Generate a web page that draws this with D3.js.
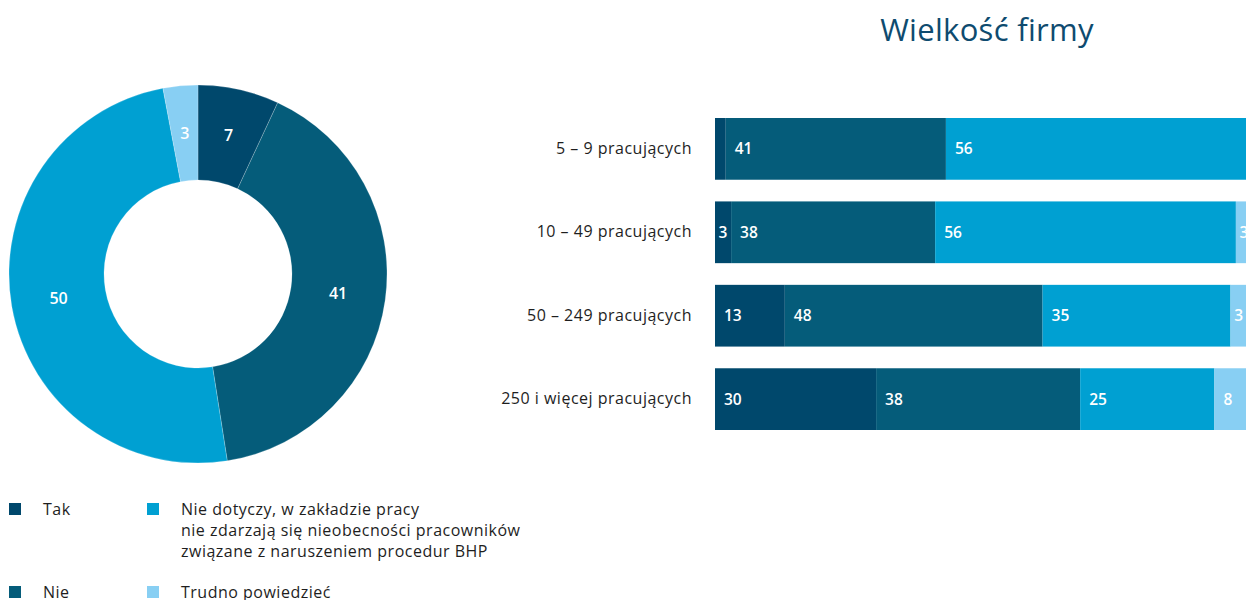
<!DOCTYPE html>
<html>
<head>
<meta charset="utf-8">
<script src="https://cdn.jsdelivr.net/npm/d3@7"></script>
<style>
  html, body { margin: 0; padding: 0; background: #fff; }
  svg { display: block; font-family: "Open Sans", "Noto Sans", sans-serif; }
</style>
</head>
<body>
<svg id="chart" width="1246" height="600"></svg>
<script>
// Answer categories (shared by the donut, the bars and the legend)
const answers = ["Tak", "Nie", "Nie dotyczy", "Trudno powiedzieć"];
const answerColors = ["#00486c", "#055c7a", "#00a0d2", "#88cff3"];

// Overall distribution (%)
const totalValues = [7, 41, 50, 3];

// Company size groups and their distributions (%)
const sizeGroups = ["5 – 9 pracujących", "10 – 49 pracujących", "50 – 249 pracujących", "250 i więcej pracujących"];
const takValues = [2, 3, 13, 30];
const nieValues = [41, 38, 48, 38];
const nieDotyczyValues = [56, 56, 35, 25];
const trudnoValues = [1, 3, 3, 8];

const barTitle = "Wielkość firmy";
const legendLabels = [
  ["Tak"],
  ["Nie dotyczy, w zakładzie pracy", "nie zdarzają się nieobecności pracowników", "związane z naruszeniem procedur BHP"],
  ["Nie"],
  ["Trudno powiedzieć"]
];

const svg = d3.select("#chart");
const color = d3.scaleOrdinal().domain(answers).range(answerColors);

// ---------- Donut ----------
const cx = 198, cy = 274, rOuter = 189, rInner = 94;
const pie = d3.pie().sort(null).value(d => d.value);
const arc = d3.arc().innerRadius(rInner).outerRadius(rOuter);
const donutData = pie(answers.map((a, i) => ({ key: a, value: totalValues[i] })));
const donut = svg.append("g").attr("transform", `translate(${cx},${cy})`);
donut.selectAll("path").data(donutData).join("path")
  .attr("d", arc)
  .attr("fill", d => color(d.data.key))
  .attr("stroke", "rgba(255,255,255,0.35)")
  .attr("stroke-width", 0.6);
donut.selectAll("text").data(donutData).join("text")
  .attr("transform", d => `translate(${arc.centroid(d)})`)
  .attr("text-anchor", "middle")
  .attr("dy", "0.35em")
  .attr("fill", "#fff")
  .attr("font-size", 16)
  .attr("font-weight", 600)
  .text(d => d.data.value);

// ---------- Stacked bars ----------
const rows = sizeGroups.map((g, i) => ({
  group: g,
  "Tak": takValues[i],
  "Nie": nieValues[i],
  "Nie dotyczy": nieDotyczyValues[i],
  "Trudno powiedzieć": trudnoValues[i]
}));
const stacked = d3.stack().keys(answers)(rows);

const x = d3.scaleLinear().domain([0, 100]).range([715, 1252]);
const y = d3.scaleBand().domain(sizeGroups).range([118, 430]).paddingInner(0.26).paddingOuter(0);

svg.append("text")
  .attr("x", 987).attr("y", 41)
  .attr("text-anchor", "middle")
  .attr("fill", "#0e4b6f")
  .attr("font-size", 31)
  .attr("letter-spacing", 0.3)
  .text(barTitle);

const layers = svg.append("g").selectAll("g").data(stacked).join("g")
  .attr("fill", d => color(d.key));
layers.selectAll("rect").data(d => d.map(s => ({ s, key: d.key }))).join("rect")
  .attr("x", d => x(d.s[0]))
  .attr("y", d => y(d.s.data.group))
  .attr("width", d => x(d.s[1]) - x(d.s[0]))
  .attr("height", y.bandwidth());

// Value labels inside the segments
const labels = [];
stacked.forEach(layer => layer.forEach(s => {
  const v = s[1] - s[0];
  if (v >= 3) labels.push({ s, v });
}));
svg.append("g").selectAll("text").data(labels).join("text")
  .attr("x", d => {
    const w = x(d.s[1]) - x(d.s[0]);
    return w < 28 ? (x(d.s[0]) + x(d.s[1])) / 2 : x(d.s[0]) + 9;
  })
  .attr("text-anchor", d => (x(d.s[1]) - x(d.s[0])) < 28 ? "middle" : "start")
  .attr("y", d => y(d.s.data.group) + y.bandwidth() / 2)
  .attr("dy", "0.35em")
  .attr("fill", "#fff")
  .attr("font-size", 15.5)
  .attr("font-weight", 600)
  .text(d => d.v);

// Category axis (labels only)
const yAxis = svg.append("g").attr("transform", "translate(692,0)")
  .call(d3.axisLeft(y).tickSize(0).tickPadding(0));
yAxis.select(".domain").remove();
yAxis.selectAll("text")
  .attr("font-size", 16)
  .attr("letter-spacing", 0.5)
  .attr("fill", "#1e1e1e")
  .attr("font-family", "\"Open Sans\", \"Noto Sans\", sans-serif");

// ---------- Legend ----------
const legendPos = [
  { sx: 9, tx: 43, y: 503 },
  { sx: 147, tx: 181, y: 503 },
  { sx: 9, tx: 43, y: 586 },
  { sx: 147, tx: 181, y: 586 }
];
const legendColors = [answerColors[0], answerColors[2], answerColors[1], answerColors[3]];
const legend = svg.append("g");
legendLabels.forEach((lines, i) => {
  const p = legendPos[i];
  legend.append("rect")
    .attr("x", p.sx).attr("y", p.y).attr("width", 12).attr("height", 12)
    .attr("fill", legendColors[i]);
  const t = legend.append("text")
    .attr("x", p.tx).attr("y", p.y + 12)
    .attr("font-size", 16)
    .attr("letter-spacing", 0.5)
    .attr("fill", "#1e1e1e");
  lines.forEach((ln, j) => {
    t.append("tspan").attr("x", p.tx).attr("dy", j === 0 ? 0 : 21).text(ln);
  });
});
</script>
</body>
</html>
